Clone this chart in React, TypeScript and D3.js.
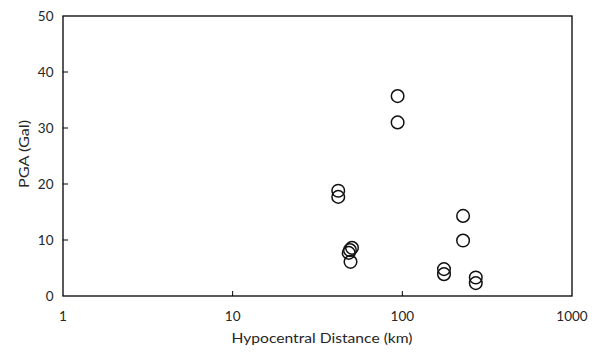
import React from "react";
import * as d3 from "d3";

const distances = [41.9, 41.9, 49.1, 50.5, 48.3, 49.5, 93.8, 93.8, 228, 228, 176, 176, 271, 271];
const pga = [18.8, 17.7, 8.2, 8.6, 7.7, 6.1, 35.7, 31.0, 14.3, 9.9, 4.8, 3.9, 3.3, 2.3];
const xTicks = [1, 10, 100, 1000];
const yTicks = [0, 10, 20, 30, 40, 50];
const xTitle = "Hypocentral Distance (km)";
const yTitle = "PGA (Gal)";

export default function App() {
  const W = 595, H = 354;
  const left = 63, right = 572, top = 16, bottom = 296;
  const x = d3.scaleLog().domain([1, 1000]).range([left, right]);
  const y = d3.scaleLinear().domain([0, 50]).range([bottom, top]);
  const font = "Lato, 'Open Sans', sans-serif";
  const fc = "#262626";
  return (
    <svg width={W} height={H} style={{ position: "absolute", left: 0, top: 0 }}>
      <rect x={0} y={0} width={W} height={H} fill="#fff" />
      <rect x={left} y={top} width={right - left} height={bottom - top} fill="none" stroke="#000" strokeWidth={1.3} />
      {yTicks.map((t) => (
        <g key={"y" + t}>
          {t > 0 && t < 50 && <line x1={left} x2={left + 5} y1={y(t)} y2={y(t)} stroke="#000" strokeWidth={1} />}
          <text x={53.5} y={y(t)} dy="0.35em" textAnchor="end" fontFamily={font} fontSize={13.5} fill={fc}>{t}</text>
        </g>
      ))}
      {xTicks.map((t) => (
        <g key={"x" + t}>
          {t > 1 && t < 1000 && <line x1={x(t)} x2={x(t)} y1={bottom} y2={bottom - 5} stroke="#000" strokeWidth={1} />}
          <text x={x(t)} y={316} dy="0.35em" textAnchor="middle" fontFamily={font} fontSize={13.5} fill={fc}>{t}</text>
        </g>
      ))}
      <text x={322} y={338} dy="0.35em" textAnchor="middle" fontFamily={font} fontSize={14} fill={fc}
        textLength={181} lengthAdjust="spacingAndGlyphs">{xTitle}</text>
      <text transform={`translate(24,154) rotate(-90)`} dy="0.35em" textAnchor="middle" fontFamily={font} fontSize={14} fill={fc}
        textLength={68} lengthAdjust="spacingAndGlyphs">{yTitle}</text>
      {distances.map((d, i) => (
        <circle key={i} cx={x(d)} cy={y(pga[i])} r={6.3} fill="none" stroke="#111" strokeWidth={1.5} />
      ))}
    </svg>
  );
}
